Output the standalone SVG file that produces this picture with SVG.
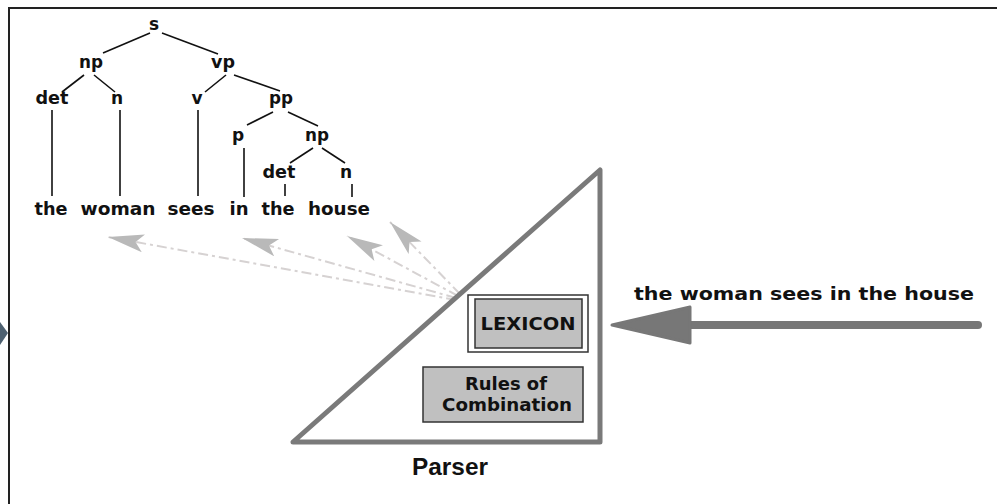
<svg xmlns="http://www.w3.org/2000/svg" width="997" height="504" viewBox="0 0 997 504">
  <defs>
    <style>
      .t { font-family: "DejaVu Sans", "Liberation Sans", sans-serif; font-weight: bold; font-size: 17px; fill: #111; text-anchor: middle; }
      .edge { stroke: #111; stroke-width: 1.6; fill: none; }
      .dash { stroke: #d6d2d2; stroke-width: 2; stroke-dasharray: 10 4 3 4; fill: none; }
      .box { fill: #c0c0c0; stroke: #333; stroke-width: 1.5; }
    </style>
    <marker id="lighthead" markerUnits="userSpaceOnUse" markerWidth="40" markerHeight="20" refX="36" refY="9" orient="auto">
      <path d="M0,0 L36,9 L0,18 L8,9 Z" fill="#b9b9b9"/>
    </marker>
  </defs>

  <rect width="997" height="504" fill="#ffffff"/>

  <!-- outer frame -->
  <path d="M9,504 L9,8 L997,8" fill="none" stroke="#222" stroke-width="2"/>
  <polygon points="0,322 8,333 0,345" fill="#4d6070"/>

  <!-- parse tree -->
  <g id="tree">
    <g id="tree-edges">
      <line class="edge" x1="150" y1="33" x2="103" y2="53"/>
      <line class="edge" x1="162" y1="33" x2="218" y2="54"/>
      <line class="edge" x1="84" y1="75" x2="62" y2="92"/>
      <line class="edge" x1="94" y1="75" x2="115" y2="92"/>
      <line class="edge" x1="226" y1="75" x2="205" y2="92"/>
      <line class="edge" x1="234" y1="75" x2="280" y2="91"/>
      <line class="edge" x1="273" y1="112" x2="247" y2="125"/>
      <line class="edge" x1="288" y1="112" x2="318" y2="126"/>
      <line class="edge" x1="313" y1="148" x2="290" y2="163"/>
      <line class="edge" x1="322" y1="148" x2="345" y2="163"/>
      <line class="edge" x1="52" y1="110" x2="52" y2="196"/>
      <line class="edge" x1="120" y1="110" x2="120" y2="196"/>
      <line class="edge" x1="198" y1="110" x2="198" y2="196"/>
      <line class="edge" x1="244" y1="148" x2="244" y2="197"/>
      <line class="edge" x1="285" y1="184" x2="285" y2="196"/>
      <line class="edge" x1="352" y1="184" x2="352" y2="197"/>
    </g>
    <g id="tree-labels">
      <text x="154" y="30" class="t">s</text>
      <text x="91" y="68" class="t" textLength="24" lengthAdjust="spacingAndGlyphs">np</text>
      <text x="223" y="68" class="t" textLength="24" lengthAdjust="spacingAndGlyphs">vp</text>
      <text x="52" y="104" class="t" textLength="33" lengthAdjust="spacingAndGlyphs">det</text>
      <text x="117" y="104" class="t">n</text>
      <text x="197" y="104" class="t">v</text>
      <text x="281" y="104" class="t" textLength="24" lengthAdjust="spacingAndGlyphs">pp</text>
      <text x="238" y="141" class="t">p</text>
      <text x="317" y="141" class="t" textLength="24" lengthAdjust="spacingAndGlyphs">np</text>
      <text x="279" y="178" class="t" textLength="33" lengthAdjust="spacingAndGlyphs">det</text>
      <text x="346" y="178" class="t">n</text>
    </g>
    <g id="sentence">
      <text x="51" y="215" class="t" textLength="33" lengthAdjust="spacingAndGlyphs">the</text>
      <text x="118" y="215" class="t" textLength="75" lengthAdjust="spacingAndGlyphs">woman</text>
      <text x="191" y="215" class="t" textLength="47" lengthAdjust="spacingAndGlyphs">sees</text>
      <text x="239" y="215" class="t" textLength="19" lengthAdjust="spacingAndGlyphs">in</text>
      <text x="278" y="215" class="t" textLength="33" lengthAdjust="spacingAndGlyphs">the</text>
      <text x="339" y="215" class="t" textLength="62" lengthAdjust="spacingAndGlyphs">house</text>
    </g>
  </g>

  <!-- lexicon lookups back to the words -->
  <g id="connectors">
    <line class="dash" x1="456" y1="300" x2="108" y2="237" marker-end="url(#lighthead)"/>
    <line class="dash" x1="456" y1="298" x2="242" y2="238" marker-end="url(#lighthead)"/>
    <line class="dash" x1="458" y1="296" x2="347" y2="236" marker-end="url(#lighthead)"/>
    <line class="dash" x1="460" y1="294" x2="390" y2="222" marker-end="url(#lighthead)"/>
    <!-- input sentence arrow -->
    <line x1="978" y1="325" x2="680" y2="325" stroke="#777" stroke-width="8" stroke-linecap="round"/>
    <polygon points="612,325 690,307 690,343" fill="#777" stroke="#777" stroke-width="3" stroke-linejoin="round"/>
  </g>

  <g id="input">
    <text x="804" y="300" class="t" style="font-size:18px" textLength="340" lengthAdjust="spacingAndGlyphs">the woman sees in the house</text>
  </g>

  <!-- parser -->
  <g id="parser">
    <polygon points="293,442 600,170 600,442" fill="#ffffff" stroke="#7a7a7a" stroke-width="5" stroke-linejoin="round"/>
    <text x="450" y="475" class="t" style="font-family:'Liberation Sans',Arial,sans-serif;font-size:24px" textLength="76" lengthAdjust="spacingAndGlyphs">Parser</text>
  </g>

  <g id="lexicon">
    <rect x="468" y="295" width="120" height="57" fill="#ffffff" stroke="#333" stroke-width="1.5"/>
    <rect x="475" y="299" width="107" height="49" class="box"/>
    <text x="528" y="330" class="t" textLength="95" lengthAdjust="spacingAndGlyphs">LEXICON</text>
  </g>

  <g id="rules">
    <rect x="423" y="367" width="160" height="55" class="box"/>
    <text x="506" y="390" class="t" textLength="82" lengthAdjust="spacingAndGlyphs">Rules of</text>
    <text x="507" y="411" class="t" textLength="130" lengthAdjust="spacingAndGlyphs">Combination</text>
  </g>
</svg>
